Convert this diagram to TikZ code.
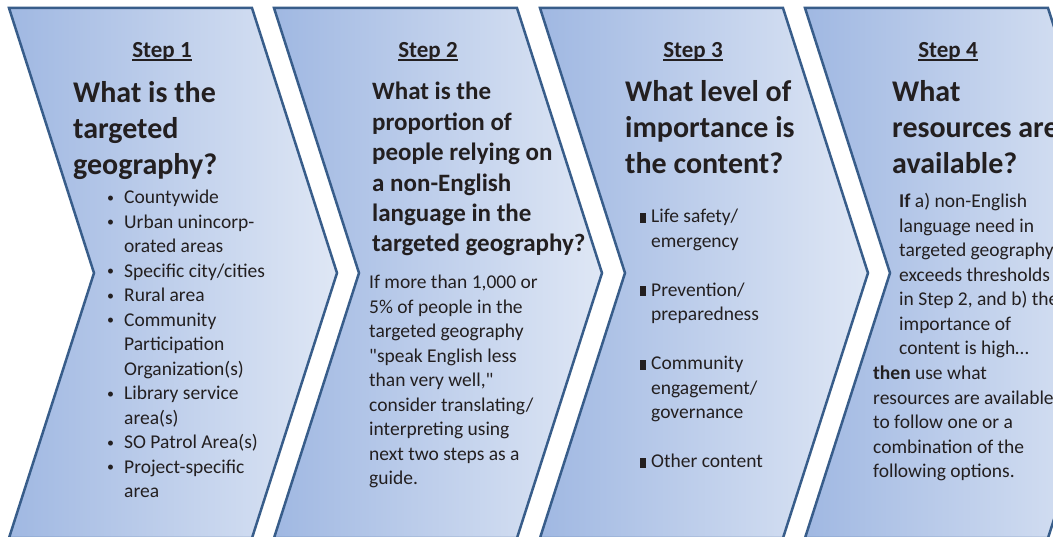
\documentclass[tikz,border=0pt]{standalone}
\usepackage{fontspec}
\setmainfont{Carlito}
\definecolor{chevL}{RGB}{160,184,226}
\definecolor{chevR}{RGB}{223,231,245}
\definecolor{chevB}{RGB}{56,93,138}
\definecolor{txt}{RGB}{35,31,32}
\newcommand\stepul[1]{\setbox0\hbox{#1}\rlap{\rule[-2.6pt]{\wd0}{1.5pt}}\box0}
\newcommand\blines[1]{\begin{tabular}[t]{@{}l@{}}#1\end{tabular}}
\newcommand\labfont{\fontsize{23}{28}\selectfont\bfseries}
\newcommand\headfont{\fontsize{30}{36}\selectfont\bfseries}
\newcommand\headsmall{\fontsize{25}{30.4}\selectfont\bfseries}
\newcommand\bodyfont{\fontsize{19.5}{24.5}\selectfont}
\newcommand\sqb{\rule[0pt]{5.5pt}{10pt}}
\newcommand\rb{\hspace*{3pt}\raisebox{1.5pt}{\fontsize{14}{14}\selectfont •}}
\newcommand\qq{\textquotedbl}
\tikzset{
  chev/.style={draw=chevB, line width=2.5pt, left color=chevL, right color=chevR, line join=miter},
  txtblk/.style={anchor=base west, inner sep=0pt, text=txt},
  steplab/.style={anchor=base, inner sep=0pt, text=txt}
}
\newcommand\chevron[1]{%
  \path[chev] (#1+9,8) -- (#1+252,8) -- (#1+337,273) -- (#1+252,538) -- (#1+9,538) -- (#1+94,273) -- cycle;}
\begin{document}
\begin{tikzpicture}[x=1pt,y=-1pt]
\useasboundingbox (0,0) rectangle (1053,537);
\fill[white] (0,0) rectangle (1053,537);
\chevron{0}
\chevron{265}
\chevron{531}
\chevron{796}

% Step 1
\node[steplab] (lab1) at (162,58) {\labfont\stepul{Step 1}};
\node[txtblk] (head1) at (73,103) {\headfont\blines{What is the\\targeted\\geography?}};
\node[txtblk] (list1) at (104,204) {\bodyfont\begin{tabular}[t]{@{}p{20pt}@{}l@{}}
\rb&Countywide\\
\rb&Urban unincorp-\\
&orated areas\\
\rb&Specific city/cities\\
\rb&Rural area\\
\rb&Community\\
&Participation\\
&Organization(s)\\
\rb&Library service\\
&area(s)\\
\rb&SO Patrol Area(s)\\
\rb&Project-specific\\
&area
\end{tabular}};

% Step 2
\node[steplab] (lab2) at (428,58) {\labfont\stepul{Step 2}};
\node[txtblk] (head2) at (372,100) {\headsmall\blines{What is the\\proportion of\\people relying on\\a non-English\\language in the\\targeted geography?}};
\node[txtblk] (body2) at (369,289) {\bodyfont\blines{If more than 1,000 or\\5\% of people in the\\targeted geography\\\qq speak English less\\than very well,\qq\\consider translating/\\interpreting using\\next two steps as a\\guide.}};

% Step 3
\node[steplab] (lab3) at (693,58) {\labfont\stepul{Step 3}};
\node[txtblk] (head3) at (625,102) {\headfont\blines{What level of\\importance is\\the content?}};
\node[txtblk] (list3) at (640,223) {\bodyfont\begin{tabular}[t]{@{}p{11pt}@{}l@{}}
\sqb&Life safety/\\
&emergency\\[24.5pt]
\sqb&Prevention/\\
&preparedness\\[24.5pt]
\sqb&Community\\
&engagement/\\
&governance\\[24.5pt]
\sqb&Other content
\end{tabular}};

% Step 4
\node[steplab] (lab4) at (948,58) {\labfont\stepul{Step 4}};
\node[txtblk] (head4) at (892,102) {\headfont\blines{What\\resources are\\available?}};
\node[txtblk] (body4a) at (899,208) {\bodyfont\blines{\textbf{If} a) non-English\\language need in\\targeted geography\\exceeds thresholds\\in Step 2, and b) the\\importance of\\content is high…}};
\node[txtblk] (body4b) at (873,380) {\bodyfont\blines{\textbf{then} use what\\resources are available\\to follow one or a\\combination of the\\following options.}};
\end{tikzpicture}
\end{document}
